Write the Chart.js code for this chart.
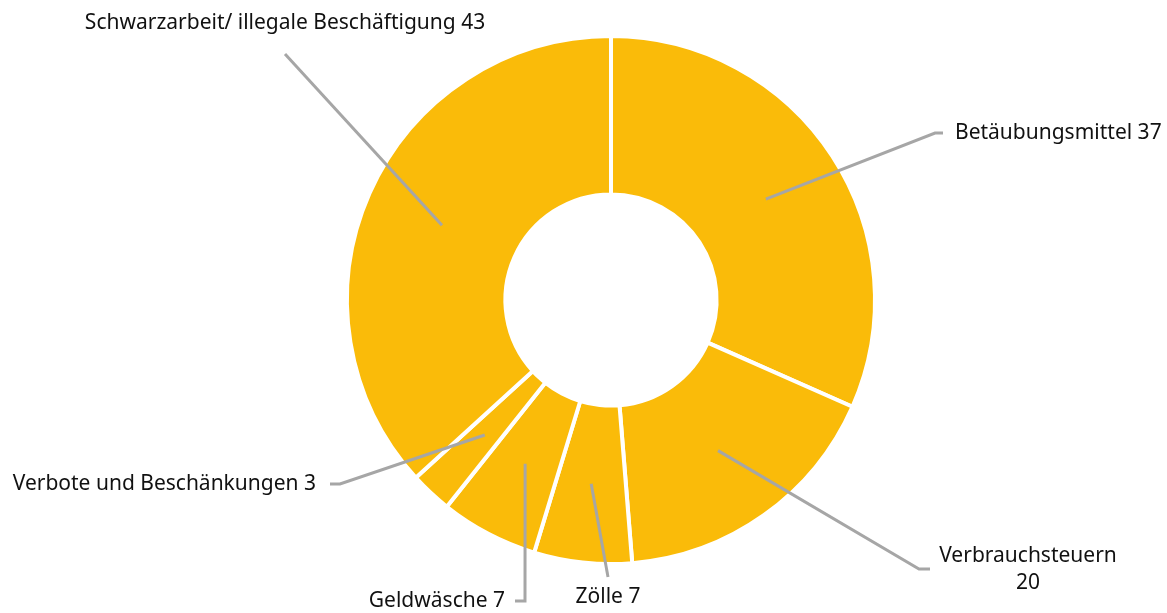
<!DOCTYPE html>
<html lang="de">
<head>
<meta charset="utf-8">
<title>Verfahren nach Deliktsbereich</title>
<script src="https://cdn.jsdelivr.net/npm/chart.js@4"></script>
<style>
  html, body { margin: 0; padding: 0; background: #fff; }
  canvas { display: block; }
</style>
</head>
<body>
<canvas id="donutChart" width="1167" height="613"></canvas>
<script>
// Data
const categories = [
  "Betäubungsmittel",
  "Verbrauchsteuern",
  "Zölle",
  "Geldwäsche",
  "Verbote und Beschänkungen",
  "Schwarzarbeit/ illegale Beschäftigung",
];
const values = [37, 20, 7, 7, 3, 43];

// Where each label sits, as pixel offsets from the doughnut centre
// end: elbow of the leader line, tail: short horizontal stub, lines: text rows
const labelLayout = [
  { end: [324, -167], tail: 8, align: "left", tx: 12, ty: 0, lines: ["Betäubungsmittel 37"] },
  { end: [308, 269], tail: 11, align: "center", tx: 98, ty: -13, lines: ["Verbrauchsteuern", "20"] },
  { end: [-3, 277], tail: 0, align: "center", tx: 0, ty: 20, lines: ["Zölle 7"] },
  { end: [-86, 301], tail: -10, align: "right", tx: -10, ty: 0, lines: ["Geldwäsche 7"] },
  { end: [-271, 184], tail: -10, align: "right", tx: -14, ty: 0, lines: ["Verbote und Beschänkungen 3"] },
  { end: [-326, -246], tail: 0, align: "center", tx: 0, ty: -31, lines: ["Schwarzarbeit/ illegale Beschäftigung 43"] },
];

// Draws the grey leader lines and the labels
const leaderLabels = {
  id: "leaderLabels",
  afterDraw(chart) {
    const ctx = chart.ctx;
    const arcs = chart.getDatasetMeta(0).data;
    ctx.save();
    ctx.strokeStyle = "#a6a6a6";
    ctx.lineWidth = 3;
    ctx.fillStyle = "#111111";
    ctx.font = '21px "Noto Sans", sans-serif';
    ctx.textBaseline = "middle";
    arcs.forEach((arc, i) => {
      const cfg = labelLayout[i];
      const start = arc.tooltipPosition();
      const ex = arc.x + cfg.end[0];
      const ey = arc.y + cfg.end[1];
      const tx = ex + cfg.tail;
      ctx.beginPath();
      ctx.moveTo(start.x, start.y);
      ctx.lineTo(ex, ey);
      if (cfg.tail) ctx.lineTo(tx, ey);
      ctx.stroke();
      ctx.textAlign = cfg.align;
      cfg.lines.forEach((line, j) => {
        ctx.fillText(line, tx + cfg.tx, ey + cfg.ty + j * 27);
      });
    });
    ctx.restore();
  },
};

document.addEventListener("DOMContentLoaded", () => {
  const ctx = document.getElementById("donutChart").getContext("2d");
  new Chart(ctx, {
    type: "doughnut",
    data: {
      labels: categories,
      datasets: [
        {
          data: values,
          backgroundColor: "#fabb09",
          borderColor: "#ffffff",
          borderWidth: 4,
          hoverOffset: 0,
        },
      ],
    },
    options: {
      responsive: false,
      animation: false,
      cutout: "40%",
      layout: {
        padding: { top: 34, bottom: 47, left: 55, right: 0 },
      },
      plugins: {
        legend: { display: false },
        tooltip: { enabled: false },
      },
    },
    plugins: [leaderLabels],
  });
});
</script>
</body>
</html>
